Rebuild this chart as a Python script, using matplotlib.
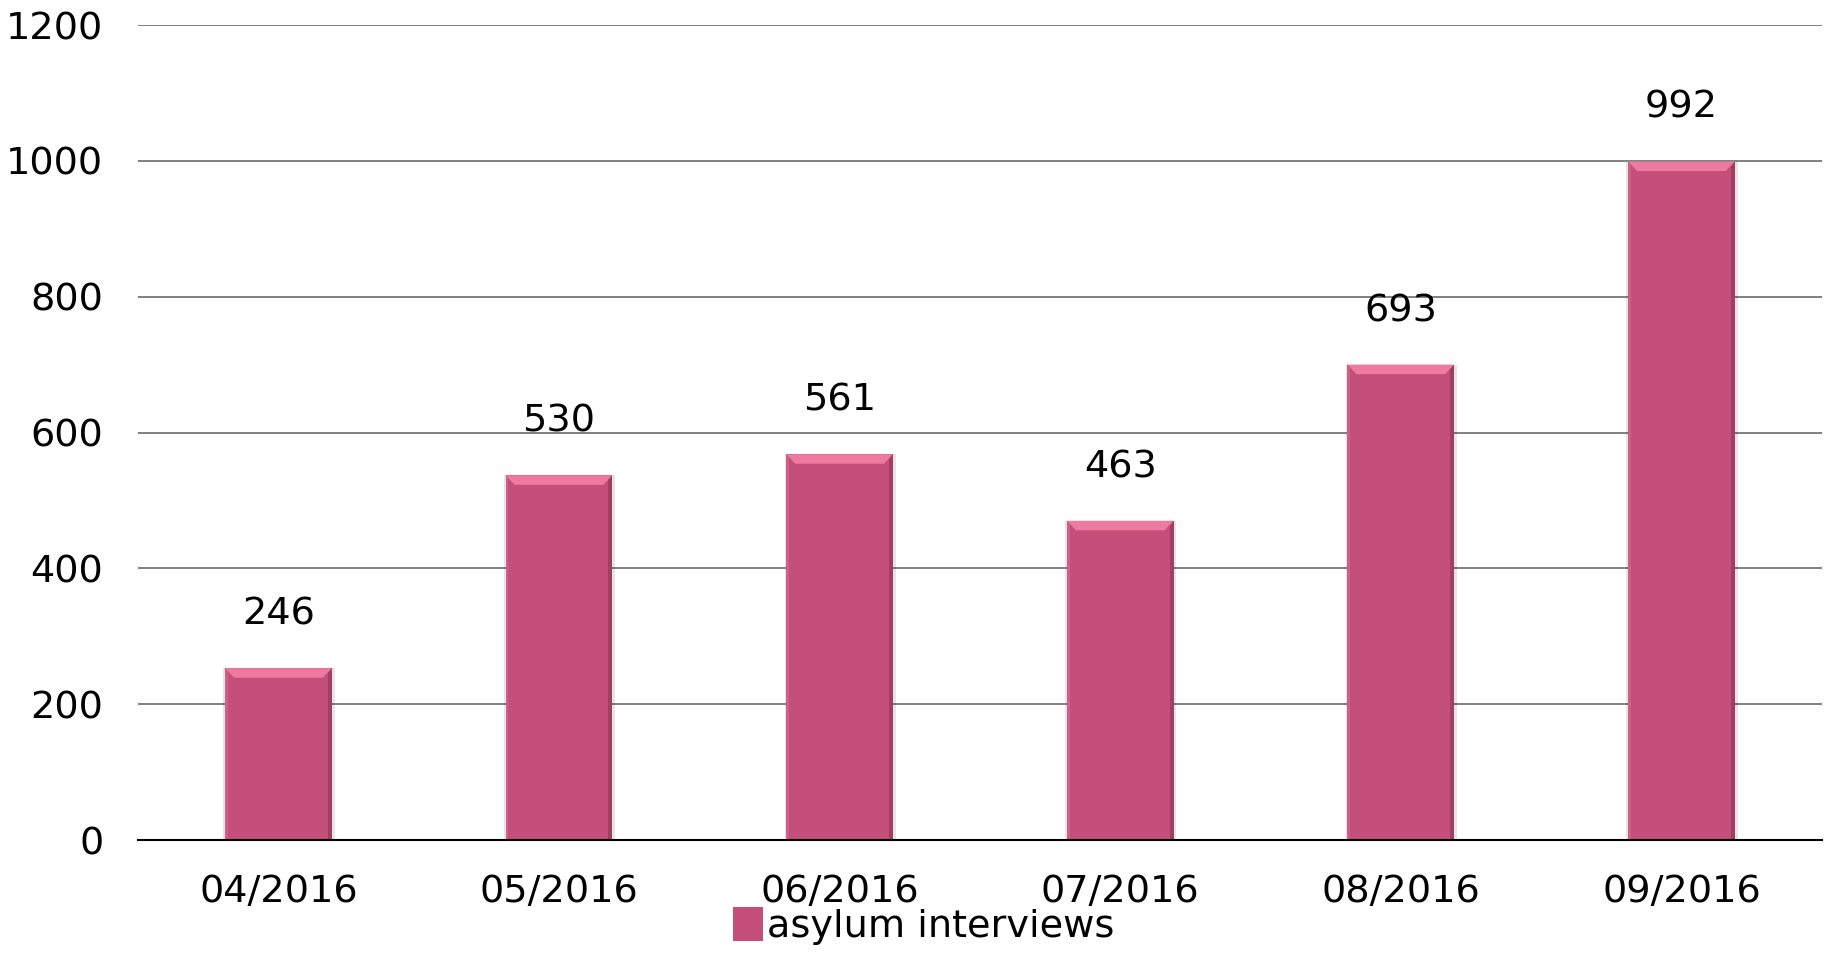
import matplotlib
matplotlib.use("Agg")
import matplotlib.pyplot as plt
from matplotlib.patches import Polygon, Rectangle

categories = ["04/2016", "05/2016", "06/2016", "07/2016", "08/2016", "09/2016"]
values = [246, 530, 561, 463, 693, 992]
series_name = "asylum interviews"
yticks = [0, 200, 400, 600, 800, 1000, 1200]

bar_color = "#C44F78"
top_color = "#EE7AA0"
side_dark = "#8E3356"

plt.rcParams['font.family'] = ['DejaVu Sans']
fig = plt.figure(figsize=(18.29, 9.77), dpi=100)
ax = fig.add_axes([0.0755, 0.1402, 0.9205, 0.8342])

x = list(range(len(categories)))
bars = ax.bar(x, values, width=0.38, color=bar_color, edgecolor='none', zorder=3, label=series_name)

# bevel decoration derived from the bar patches
bx = 0.032
by = 14
ext = 7
for p in bars.patches:
    x0, w, h = p.get_x(), p.get_width(), p.get_height()
    x1 = x0 + w
    top = h + ext
    # shadow
    ax.add_patch(Rectangle((x0 - 0.006, 0), w + 0.016, top, facecolor='#000000', alpha=0.10,
                           edgecolor='none', zorder=2))
    # body extension
    ax.add_patch(Rectangle((x0, h - 1), w, ext + 1, facecolor=bar_color, edgecolor='none', zorder=3))
    # top bevel
    ax.add_patch(Polygon([(x0, top), (x1, top), (x1 - bx, top - by), (x0 + bx, top - by)],
                         closed=True, facecolor=top_color, edgecolor='none', zorder=4))
    # right side bevel
    ax.add_patch(Polygon([(x1, top), (x1, 0), (x1 - 0.014, 0), (x1 - 0.014, top - by * 0.5)],
                         closed=True, facecolor=side_dark, alpha=0.6, edgecolor='none', zorder=4))
    # left side highlight
    ax.add_patch(Polygon([(x0, top), (x0, 0), (x0 + 0.01, 0), (x0 + 0.01, top - by * 0.4)],
                         closed=True, facecolor='#D86A90', alpha=0.6, edgecolor='none', zorder=4))

for xi, v in zip(x, values):
    ax.annotate(str(v), (xi, v), xytext=(0, 42), textcoords='offset points',
                ha='center', va='center', fontsize=27.5, color='black')

ax.set_xlim(-0.5, len(categories) - 0.5)
ax.set_ylim(0, 1200)
ax.set_yticks(yticks)
ax.set_yticklabels([str(t) for t in yticks], fontsize=27.5)
ax.set_xticks(x)
ax.set_xticklabels(categories, fontsize=27.5)
ax.tick_params(axis='both', length=0)
ax.tick_params(axis='y', pad=25)
ax.tick_params(axis='x', pad=24.5)
ax.yaxis.grid(True, color='#808080', linewidth=1.4, zorder=0)
ax.set_axisbelow(True)
for s in ['left', 'right', 'top']:
    ax.spines[s].set_visible(False)
ax.spines['bottom'].set_color('black')
ax.spines['bottom'].set_linewidth(1.5)
ax.spines['bottom'].set_zorder(5)

leg = fig.legend(handles=[bars], labels=[series_name], loc='center', bbox_to_anchor=(0.505, 0.052),
                 frameon=False, fontsize=27.5, handlelength=0.8, handleheight=1.0, handletextpad=0.1,
                 borderpad=0)

fig.savefig("out.png", dpi=100)
